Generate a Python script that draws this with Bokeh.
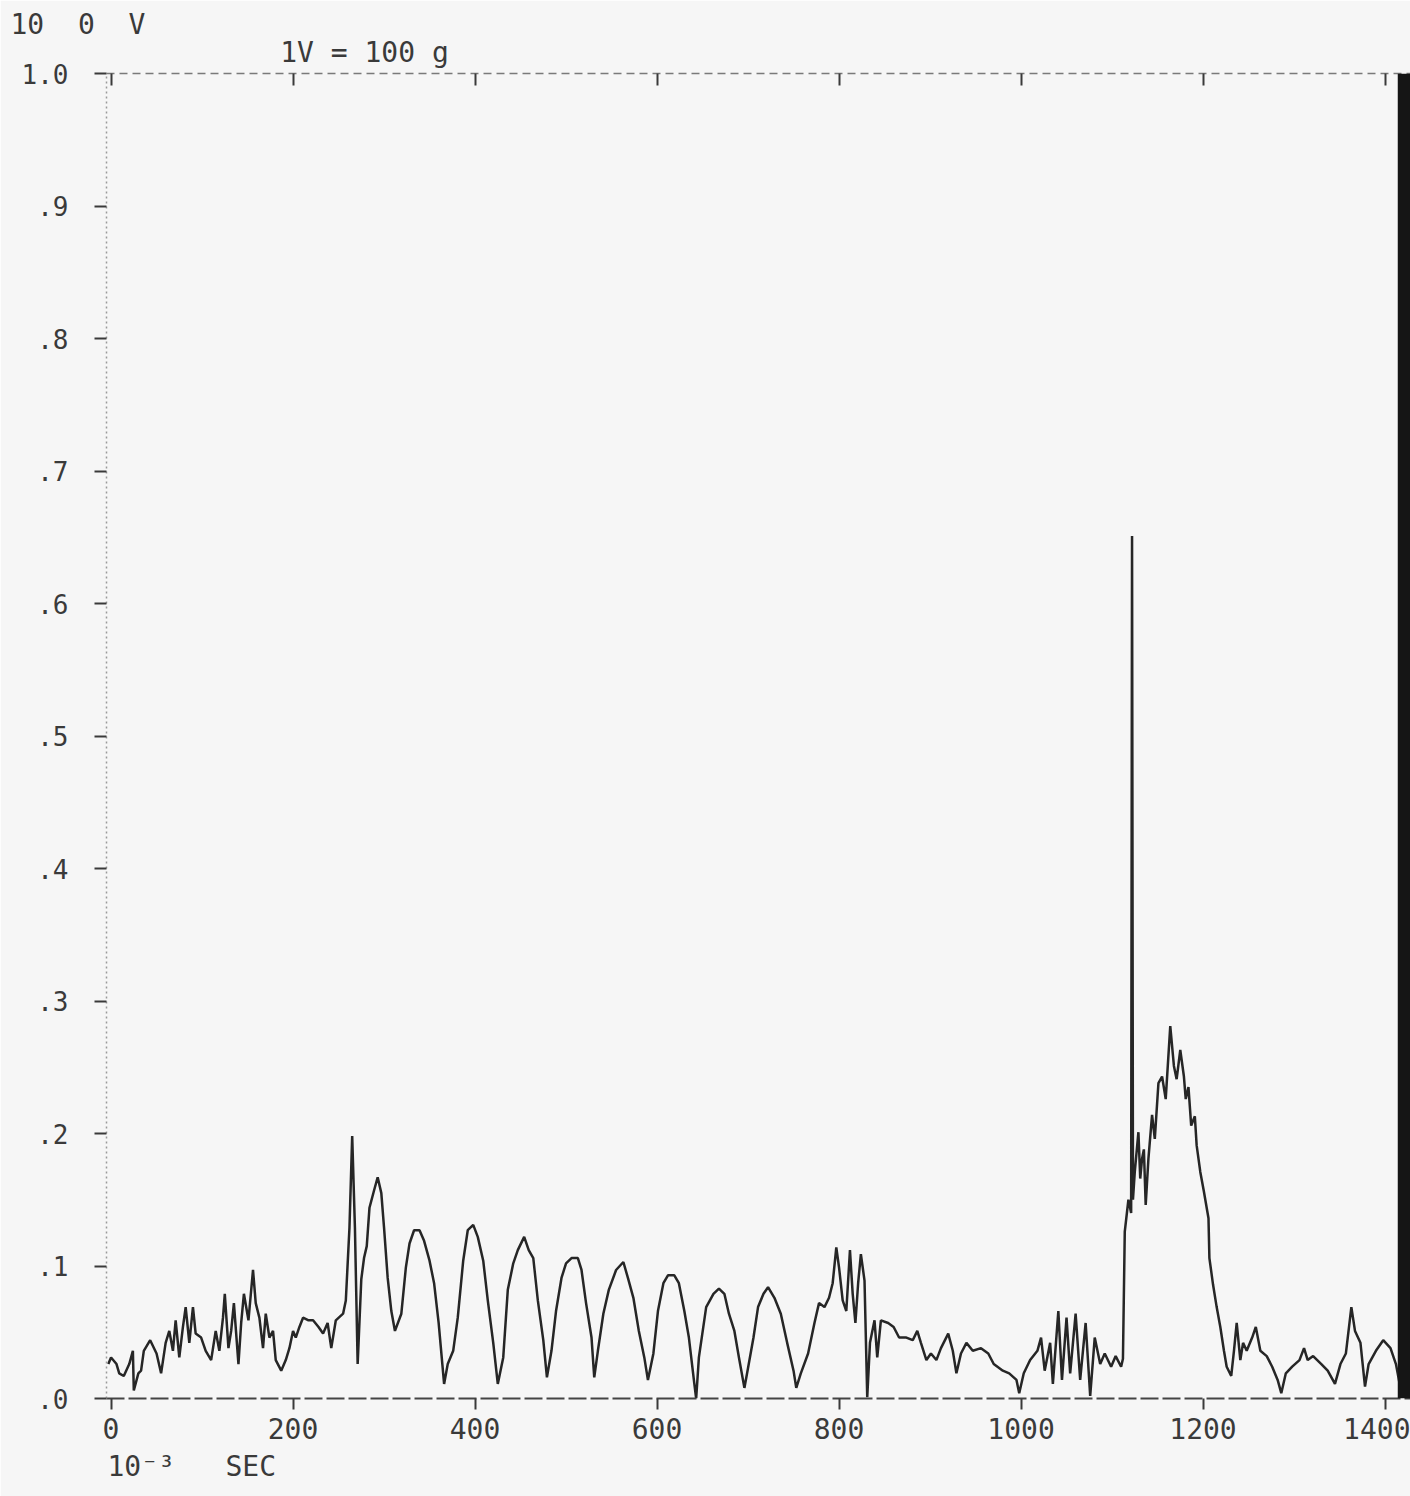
from bokeh.plotting import figure
from bokeh.models import Range1d, FixedTicker, LinearAxis, Title, BoxAnnotation, CustomJSTickFormatter
from bokeh.embed import file_html
from bokeh.resources import INLINE

# time in 10^-3 s, signal in V (1 V = 100 g)
time_ms = [-3, 0, 6, 9, 14, 20, 24, 25, 30, 33, 36, 43, 50, 55, 60, 64, 68, 71, 75, 79,
           82, 86, 90, 93, 99, 104, 110, 115, 119, 123, 125, 129, 132, 135, 140, 143, 146, 151, 156, 159,
           163, 167, 170, 174, 178, 181, 187, 192, 196, 200, 203, 207, 211, 217, 222, 228, 233, 238, 242, 247,
           255, 258, 262, 265, 268, 271, 275, 278, 281, 284, 289, 293, 297, 300, 304, 308, 312, 319, 324, 328,
           333, 339, 344, 350, 355, 360, 366, 370, 376, 381, 387, 392, 398, 403, 409, 414, 420, 425, 431, 436,
           442, 447, 454, 459, 464, 469, 475, 479, 484, 489, 495, 500, 506, 513, 517, 522, 528, 531, 535, 541,
           547, 555, 563, 568, 574, 580, 586, 590, 596, 601, 607, 612, 619, 624, 630, 635, 641, 643, 646, 654,
           662, 668, 674, 679, 685, 690, 696, 700, 706, 711, 717, 722, 729, 736, 743, 750, 753, 758, 766, 773,
           778, 784, 789, 793, 797, 800, 804, 808, 812, 815, 818, 821, 824, 828, 831, 834, 839, 842, 846, 854,
           860, 866, 874, 881, 886, 890, 896, 901, 907, 912, 920, 925, 929, 934, 940, 947, 956, 964, 970, 980,
           987, 995, 998, 1003, 1010, 1018, 1022, 1026, 1032, 1035, 1041, 1045, 1050, 1054, 1060, 1065, 1071, 1076, 1081, 1087,
           1092, 1099, 1104, 1110, 1112, 1114, 1118, 1121, 1122, 1123, 1125, 1129, 1131, 1133, 1135, 1137, 1140, 1144, 1147, 1151,
           1155, 1159, 1164, 1168, 1171, 1175, 1179, 1181, 1184, 1187, 1191, 1193, 1197, 1201, 1206, 1207, 1211, 1215, 1219, 1223,
           1226, 1231, 1234, 1237, 1241, 1244, 1248, 1254, 1258, 1263, 1270, 1276, 1282, 1286, 1291, 1298, 1306, 1311, 1315, 1321,
           1330, 1337, 1345, 1351, 1357, 1363, 1367, 1373, 1378, 1382, 1390, 1398, 1406, 1412, 1418, 1423]
volts = [0.026, 0.031, 0.026, 0.019, 0.017, 0.026, 0.036, 0.006, 0.019, 0.021, 0.036, 0.044, 0.034, 0.019, 0.042, 0.051, 0.036, 0.059, 0.031, 0.054,
         0.069, 0.042, 0.069, 0.049, 0.046, 0.036, 0.029, 0.051, 0.036, 0.061, 0.079, 0.038, 0.051, 0.072, 0.026, 0.057, 0.079, 0.059, 0.097, 0.072,
         0.061, 0.038, 0.064, 0.046, 0.051, 0.029, 0.021, 0.029, 0.038, 0.051, 0.046, 0.054, 0.061, 0.059, 0.059, 0.054, 0.049, 0.057, 0.038, 0.059,
         0.064, 0.074, 0.129, 0.198, 0.129, 0.026, 0.090, 0.106, 0.115, 0.144, 0.157, 0.167, 0.155, 0.129, 0.091, 0.066, 0.051, 0.064, 0.099, 0.117,
         0.127, 0.127, 0.119, 0.104, 0.087, 0.057, 0.011, 0.026, 0.036, 0.061, 0.104, 0.127, 0.131, 0.122, 0.104, 0.074, 0.042, 0.011, 0.031, 0.082,
         0.102, 0.112, 0.122, 0.112, 0.106, 0.074, 0.044, 0.016, 0.036, 0.066, 0.091, 0.102, 0.106, 0.106, 0.097, 0.072, 0.046, 0.016, 0.036, 0.064,
         0.082, 0.097, 0.103, 0.091, 0.076, 0.051, 0.031, 0.014, 0.034, 0.066, 0.087, 0.093, 0.093, 0.087, 0.066, 0.046, 0.011, 0.000, 0.031, 0.069,
         0.079, 0.083, 0.079, 0.064, 0.051, 0.031, 0.008, 0.023, 0.046, 0.069, 0.079, 0.084, 0.076, 0.064, 0.042, 0.021, 0.008, 0.019, 0.034, 0.057,
         0.072, 0.069, 0.076, 0.087, 0.114, 0.099, 0.074, 0.066, 0.112, 0.079, 0.057, 0.087, 0.109, 0.089, 0.001, 0.042, 0.059, 0.031, 0.059, 0.057,
         0.054, 0.046, 0.046, 0.044, 0.051, 0.042, 0.029, 0.034, 0.029, 0.038, 0.049, 0.036, 0.019, 0.034, 0.042, 0.036, 0.038, 0.034, 0.026, 0.021,
         0.019, 0.014, 0.004, 0.019, 0.029, 0.036, 0.046, 0.021, 0.042, 0.011, 0.066, 0.014, 0.061, 0.019, 0.064, 0.014, 0.057, 0.002, 0.046, 0.026,
         0.034, 0.024, 0.032, 0.024, 0.030, 0.126, 0.150, 0.140, 0.651, 0.150, 0.171, 0.201, 0.166, 0.181, 0.188, 0.146, 0.181, 0.214, 0.196, 0.238,
         0.243, 0.226, 0.281, 0.251, 0.241, 0.263, 0.243, 0.226, 0.235, 0.206, 0.213, 0.191, 0.171, 0.156, 0.136, 0.106, 0.086, 0.069, 0.054, 0.036,
         0.024, 0.017, 0.036, 0.057, 0.029, 0.042, 0.036, 0.046, 0.054, 0.036, 0.032, 0.024, 0.014, 0.004, 0.019, 0.024, 0.029, 0.038, 0.029, 0.032,
         0.026, 0.021, 0.011, 0.026, 0.034, 0.069, 0.051, 0.042, 0.009, 0.026, 0.036, 0.044, 0.038, 0.026, 0.004, 0.019]

x_ticks = [0, 200, 400, 600, 800, 1000, 1200, 1400]
x_tick_labels = ["0", "200", "400", "600", "800", "1000", "1200", "1400"]
y_ticks = [0, 0.1, 0.2, 0.3, 0.4, 0.5, 0.6, 0.7, 0.8, 0.9, 1.0]
y_tick_labels = [".0", ".1", ".2", ".3", ".4", ".5", ".6", ".7", ".8", ".9", "1.0"]

FONT = "DejaVu Sans Mono"
INK = "#3a3a3a"
BG = "#f6f6f6"
NB = "\u00a0"

p = figure(width=1410, height=1496, output_backend="svg", toolbar_location=None,
           x_range=Range1d(-5, 1428), y_range=Range1d(0, 1.0),
           min_border_left=106, min_border_right=0, min_border_top=73, min_border_bottom=98)
p.background_fill_color = BG
p.border_fill_color = BG
p.outline_line_color = None
p.grid.visible = False

fmt_code = """
const i = tvals.findIndex(t => Math.abs(t - tick) < 1e-6);
return i >= 0 ? tlabels[i] : '';
"""

xa = p.xaxis[0]
xa.ticker = FixedTicker(ticks=x_ticks)
xa.formatter = CustomJSTickFormatter(args=dict(tvals=x_ticks, tlabels=x_tick_labels), code=fmt_code)
xa.major_tick_in = 0
xa.major_tick_out = 11
xa.minor_tick_line_color = None
xa.major_tick_line_color = INK
xa.major_tick_line_width = 2
xa.axis_line_color = "#444444"
xa.axis_line_width = 2
xa.axis_line_dash = "18 4"
xa.major_label_text_font = FONT
xa.major_label_text_font_size = "28px"
xa.major_label_text_color = INK
xa.major_label_standoff = 8

ya = p.yaxis[0]
ya.ticker = FixedTicker(ticks=y_ticks)
ya.formatter = CustomJSTickFormatter(args=dict(tvals=y_ticks, tlabels=y_tick_labels), code=fmt_code)
ya.major_tick_in = 0
ya.major_tick_out = 12
ya.minor_tick_line_color = None
ya.major_tick_line_color = INK
ya.major_tick_line_width = 2
ya.axis_line_color = "#9a9a9a"
ya.axis_line_width = 1.5
ya.axis_line_dash = "2 3"
ya.major_label_text_font = FONT
ya.major_label_text_font_size = "26px"
ya.major_label_text_color = INK
ya.major_label_standoff = 26

top = LinearAxis(ticker=FixedTicker(ticks=x_ticks),
                 formatter=CustomJSTickFormatter(code="return '';"),
                 major_label_standoff=0, major_label_text_font_size="4px",
                 major_tick_in=12, major_tick_out=0, minor_tick_line_color=None,
                 major_tick_line_color=INK, major_tick_line_width=2,
                 axis_line_color="#7a7a7a", axis_line_width=1.5, axis_line_dash="8 5")
p.add_layout(top, "above")

# two-line header: "10 0 V" and, lower and further right, "1V = 100 g"
header = "10" + NB * 2 + "0" + NB * 2 + "V" + "\n" + NB * 16 + "1V = 100 g"
p.add_layout(Title(text=header, align="left", offset=-96, standoff=8,
                   text_font=FONT, text_font_size="28px", text_font_style="normal",
                   text_line_height=0.85, text_color=INK), "above")
# time unit under the x axis
p.add_layout(Title(text="10\u207b\u00b3" + NB * 3 + "SEC", align="left", offset=1, standoff=12,
                   text_font=FONT, text_font_size="28px", text_font_style="normal",
                   text_color=INK), "below")

p.line(time_ms, volts, line_color="#262626", line_width=2.5)

# dark scan edge on the right
p.add_layout(BoxAnnotation(left=1414, fill_color="#151515", fill_alpha=1.0, line_color=None))

open("out.html", "w").write(file_html(p, INLINE))
